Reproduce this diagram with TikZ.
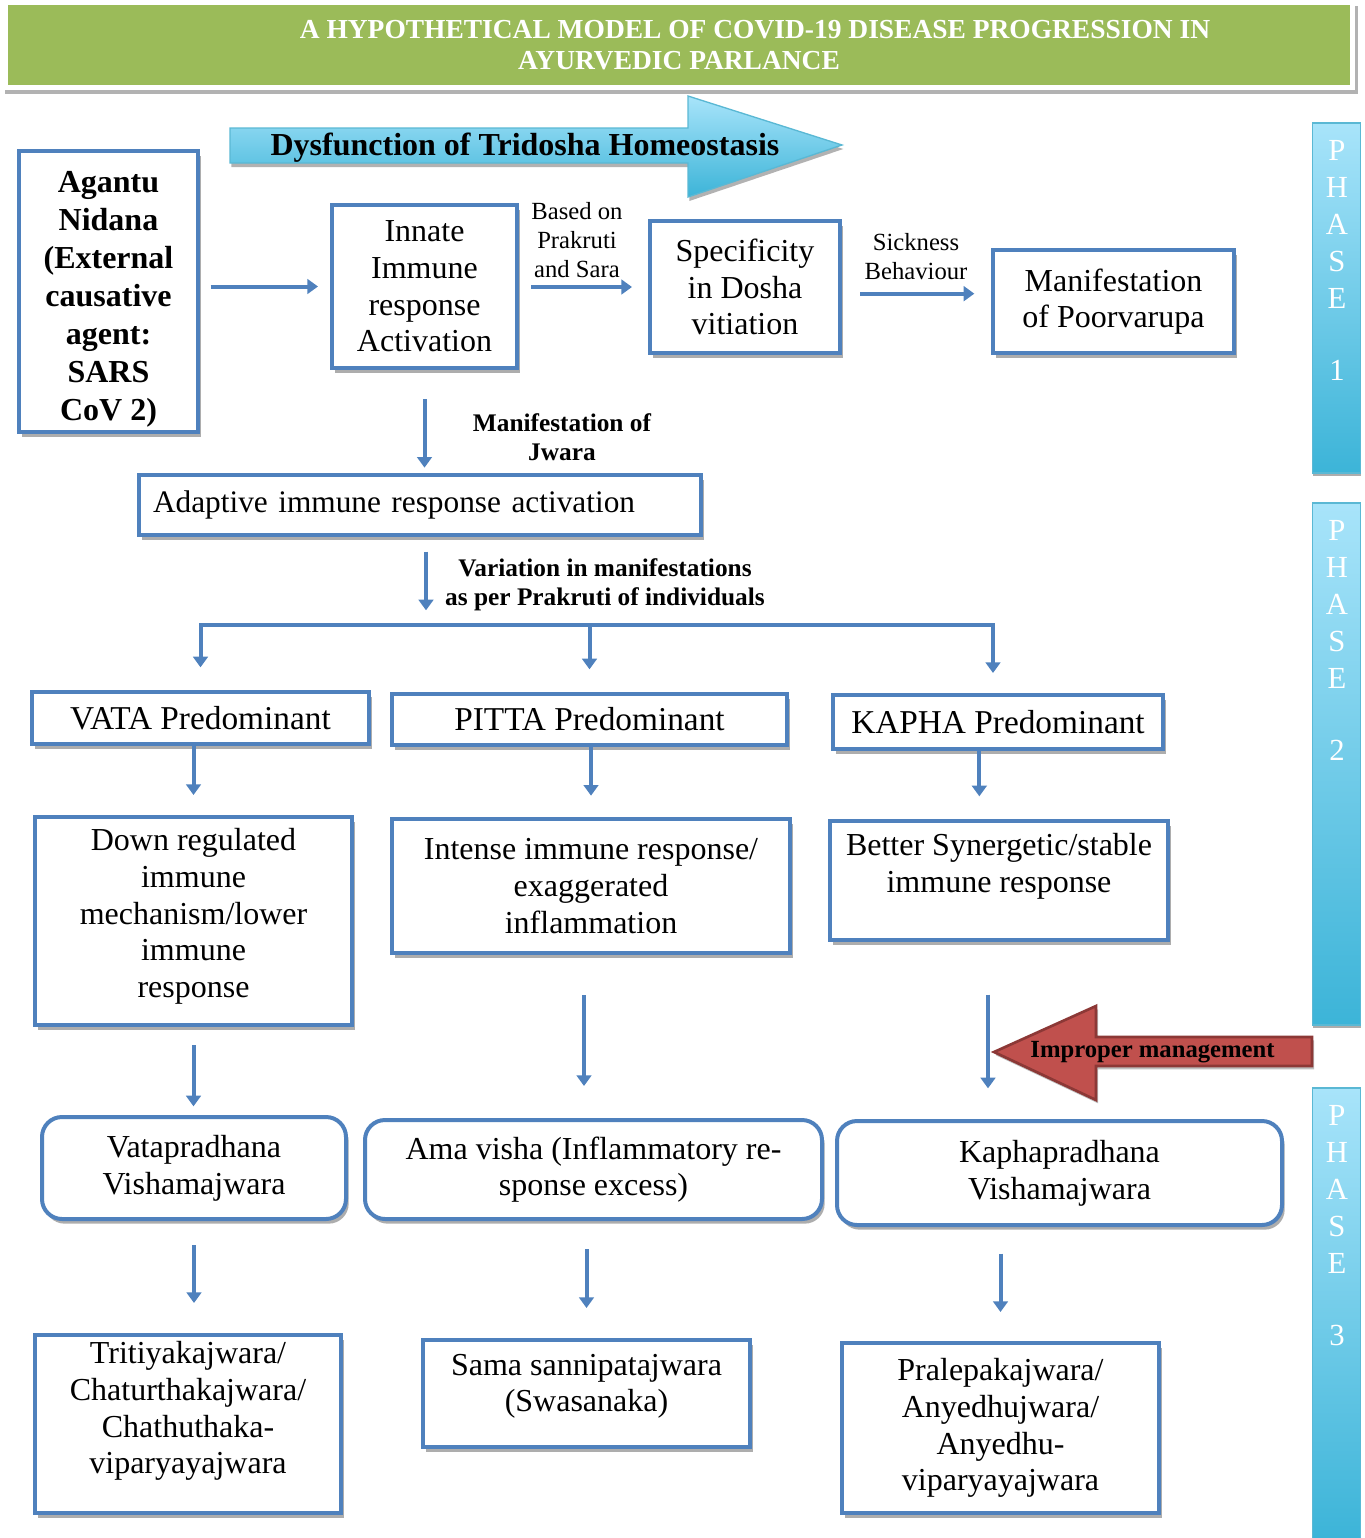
\documentclass[tikz,border=0pt]{standalone}
\usepackage{fontspec}
\setmainfont{Liberation Serif}
\usetikzlibrary{arrows.meta, shadows}

\definecolor{boxblue}{HTML}{4F81BD}
\definecolor{bannergreen}{HTML}{9BBB59}
\definecolor{arrowred}{HTML}{C0504D}
\definecolor{arrowredline}{HTML}{8C3836}
\definecolor{phasetop}{HTML}{A8E4FA}
\definecolor{phasebot}{HTML}{3CB4D8}
\definecolor{phaseline}{HTML}{5AB8D4}

\newcommand{\bxfont}{\fontsize{24}{27.5}\selectfont}
\newcommand{\pdfont}{\fontsize{25}{27.5}\selectfont}
\newcommand{\lbfont}{\fontsize{18.5}{21.75}\selectfont}
\newcommand{\blbfont}{\bfseries\fontsize{19}{21.75}\selectfont}
\newcommand{\agfont}{\bfseries\fontsize{24}{28.5}\selectfont}
\newcommand{\hdfont}{\bfseries\fontsize{20.6}{23}\selectfont}
\newcommand{\phfont}{\fontsize{23}{27.75}\selectfont}

\tikzset{
  box/.style={draw=boxblue, line width=3pt, fill=white, align=center, font=\bxfont, inner sep=3pt,
    drop shadow={shadow xshift=2pt, shadow yshift=-3.5pt, fill=black!32, opacity=1}},
  rbox/.style={box, rounded corners=15pt},
  flow/.style={draw=boxblue, line width=3pt, -{Triangle[length=8pt,width=11pt]}},
  lbl/.style={font=\lbfont, align=center, inner sep=0pt},
  blbl/.style={font=\blbfont, align=center, inner sep=0pt},
  banner/.style={fill=bannergreen, text=white, font=\hdfont, align=center,
    minimum width=1006.5pt, minimum height=60pt},
  phasebar/.style={draw=phaseline, line width=1pt, top color=phasetop, bottom color=phasebot,
    minimum width=36pt, drop shadow={shadow xshift=0pt, shadow yshift=-2.5pt, fill=black!32, opacity=1}},
  phasetxt/.style={font=\phfont, text=white, align=center, inner sep=0pt},
}

\begin{document}
\begin{tikzpicture}[x=0.75pt, y=-0.75pt]
\useasboundingbox (0,0) rectangle (1364,1538);

% title
\fill[black!30] (5,6) rectangle (1358,94);
\fill[white] (2,1) rectangle (1355,90);
\node[banner] (title) at (679,45) {\hspace*{114pt}A HYPOTHETICAL MODEL OF COVID-19 DISEASE PROGRESSION IN\\AYURVEDIC PARLANCE};

% phases
\node[phasebar, minimum height=262.5pt] (ph1) at (1336.5,298) {};
\node[phasetxt, anchor=north] (ph1txt) at (1337,140) {P\\H\\A\\S\\E\\[26pt]1};
\node[phasebar, minimum height=391.5pt] (ph2) at (1336.5,764) {};
\node[phasetxt, anchor=north] (ph2txt) at (1337,520) {P\\H\\A\\S\\E\\[26pt]2};
\node[phasebar, minimum height=339pt] (ph3) at (1336.5,1314) {};
\node[phasetxt, anchor=north] (ph3txt) at (1337,1105) {P\\H\\A\\S\\E\\[26pt]3};

% big arrow
\path[draw=phaseline, line width=1pt, top color=phasetop, bottom color=phasebot,
  drop shadow={shadow xshift=1pt, shadow yshift=-3pt, fill=black!30, opacity=1}]
  (230,128) -- (688,128) -- (688,96) -- (842,145) -- (688,197) -- (688,163) -- (230,163) -- cycle;
\node[font=\agfont, inner sep=0pt] (dysf) at (525,148) {Dysfunction of Tridosha Homeostasis};

% phase 1
\node[box, font=\agfont, inner sep=2pt, text height=199pt, minimum width=134.25pt, minimum height=210.75pt] (agantu) at (108.5,291.5)
  {Agantu\\Nidana\\(External\\causative\\agent:\\SARS\\CoV 2)};
\node[box, minimum width=138.75pt, minimum height=122.25pt] (innate) at (424.5,286.5)
  {Innate\\Immune\\response\\Activation};
\node[box, minimum width=142.5pt, minimum height=99pt] (spec) at (745,287)
  {Specificity\\in Dosha\\vitiation};
\node[box, minimum width=180.75pt, minimum height=77.25pt] (poorva) at (1113.5,301.5)
  {Manifestation\\of Poorvarupa};
\node[box, font=\fontsize{23.5}{27.5}\selectfont, align=left, text width=400.5pt, inner xsep=10.5pt, minimum height=45pt] (adaptive) at (420,505)
  {Adaptive immune response activation};

\node[lbl] (basedon) at (577,240) {Based on\\Prakruti\\and Sara};
\node[lbl] (sickness) at (916,257) {Sickness\\Behaviour};
\node[blbl] (jwara) at (562,437) {Manifestation of\\Jwara};
\node[blbl] (variation) at (605,585) {Variation in manifestations\\as per Prakruti of individuals};

% phase 2
\node[box, font=\pdfont, minimum width=252.75pt, minimum height=39pt] (vata) at (200.5,718) {VATA Predominant};
\node[box, font=\pdfont, minimum width=296.25pt, minimum height=38.25pt] (pitta) at (589.5,719.5) {PITTA Predominant};
\node[box, font=\pdfont, minimum width=247.5pt, minimum height=40.5pt] (kapha) at (998,722) {KAPHA Predominant};

\node[box, text depth=12pt, minimum width=237.75pt, minimum height=156pt] (down) at (193.5,921)
  {Down regulated\\immune\\mechanism/lower\\immune\\response};
\node[box, minimum width=298.5pt, minimum height=100.5pt] (intense) at (591,886)
  {Intense immune response/\\exaggerated\\inflammation};
\node[box, text depth=26pt, minimum width=253.5pt, minimum height=89.25pt] (better) at (999,880.5)
  {Better Synergetic/stable\\immune response};

% phase 3
\node[rbox, minimum width=228pt, minimum height=76.5pt] (vatapr) at (194,1168)
  {Vatapradhana\\Vishamajwara};
\node[rbox, minimum width=342.75pt, minimum height=74.25pt] (ama) at (593.5,1169.5)
  {Ama visha (Inflammatory re-\\sponse excess)};
\node[rbox, minimum width=333.75pt, minimum height=78pt] (kaphapr) at (1059.5,1173)
  {Kaphapradhana\\Vishamajwara};

\node[box, text depth=24.5pt, minimum width=229.5pt, minimum height=133.5pt] (trit) at (188,1424)
  {Tritiyakajwara/\\Chaturthakajwara/\\Chathuthaka-\\viparyayajwara};
\node[box, text depth=16pt, minimum width=245.25pt, minimum height=80.25pt] (sama) at (586.5,1393.5)
  {Sama sannipatajwara\\(Swasanaka)};
\node[box, minimum width=237.75pt, minimum height=127.5pt] (pralep) at (1000.5,1428)
  {Pralepakajwara/\\Anyedhujwara/\\Anyedhu-\\viparyayajwara};

% connectors
\coordinate (sdrop) at ([yshift=-5pt]spec.east);
\coordinate (fork) at (426,625);
\coordinate (kfork) at (993,625);
\coordinate (kdrop) at ([xshift=-14pt]kapha.south);
\coordinate (idrop) at ([xshift=-5.25pt]intense.south);
\coordinate (bdrop) at ([xshift=-8.25pt]better.south);

\draw[flow, shorten <=8pt, shorten >=9pt] (agantu.east |- innate) -- (innate);
\draw[flow, shorten <=9pt, shorten >=12pt] (innate.east |- spec) -- (spec);
\draw[flow, shorten <=13.5pt, shorten >=12.5pt] (sdrop) -- (sdrop -| poorva.west);
\draw[flow, shorten <=22pt, shorten >=4pt] (innate.south) -- (innate.south |- adaptive.north);
\draw[flow, shorten <=11pt, shorten >=11pt] (adaptive.south -| fork) -- (fork);

\draw[flow, shorten >=17pt] (pitta |- fork) -- (vata |- fork) -- (vata);
\draw[flow, shorten >=15pt] (pitta |- fork) -- (kfork) -- (kfork |- kapha.north);
\draw[flow, shorten >=17pt] (pitta |- fork) -- (pitta);

\draw[flow, shorten >=15pt] (down.north |- vata.south) -- (down);
\draw[flow, shorten >=16pt] (intense.north |- pitta.south) -- (intense);
\draw[flow, shorten >=17pt] (kdrop) -- (kdrop |- better.north);

\draw[flow, shorten <=13.5pt, shorten >=6.5pt] (down.south) -- (down.south |- vatapr.north);
\draw[flow, shorten <=30pt, shorten >=24pt] (idrop) -- (idrop |- ama.north);
\draw[flow, shorten <=39.5pt, shorten >=23pt] (bdrop) -- (bdrop |- kaphapr.north);

\draw[flow, shorten <=18pt, shorten >=22.5pt] (vatapr.south) -- (vatapr.south |- trit.north);
\draw[flow, shorten <=21pt, shorten >=22.5pt] (sama.north |- ama.south) -- (sama);
\draw[flow, shorten <=20pt, shorten >=21.75pt] (pralep.north |- kaphapr.south) -- (pralep);

% improper management
\filldraw[fill=arrowred, draw=arrowredline, line width=2pt,
  drop shadow={shadow xshift=1.5pt, shadow yshift=-2.5pt, fill=black!25, opacity=1}]
  (1312,1037) -- (1096,1037) -- (1096,1006) -- (994,1052) -- (1096,1100) -- (1096,1066) -- (1312,1066) -- cycle;
\node[blbl, font=\bfseries\fontsize{18.5}{21.75}\selectfont] (improper) at (1152.5,1052) {Improper management};

\end{tikzpicture}
\end{document}
